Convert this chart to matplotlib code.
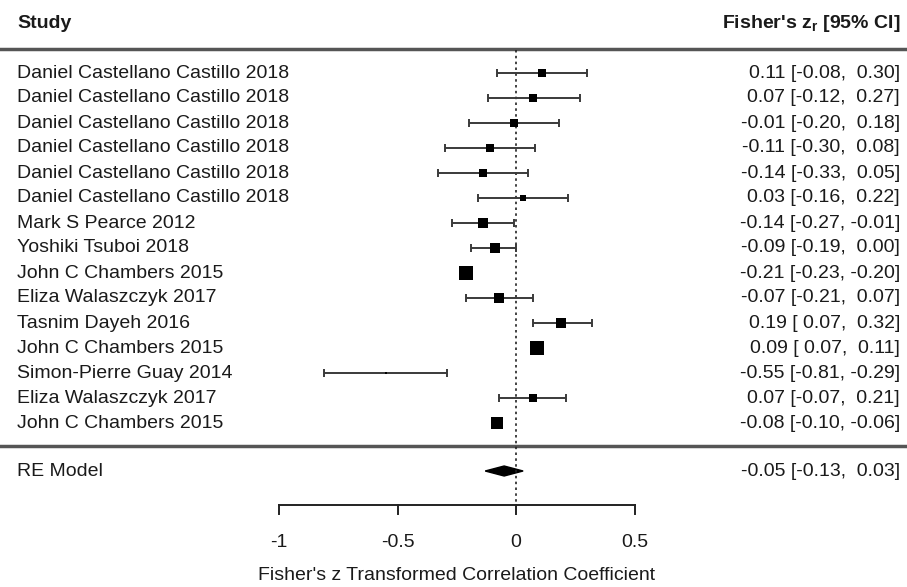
import numpy as np
import matplotlib.pyplot as plt

plt.rcParams['font.family'] = ['Liberation Sans', 'DejaVu Sans']
plt.rcParams['mathtext.fontset'] = 'custom'
plt.rcParams['mathtext.rm'] = 'Liberation Sans'
plt.rcParams['mathtext.bf'] = 'Liberation Sans:bold'

# study data
studies = ['Daniel Castellano Castillo 2018', 'Daniel Castellano Castillo 2018',
           'Daniel Castellano Castillo 2018', 'Daniel Castellano Castillo 2018',
           'Daniel Castellano Castillo 2018', 'Daniel Castellano Castillo 2018',
           'Mark S Pearce 2012', 'Yoshiki Tsuboi 2018', 'John C Chambers 2015',
           'Eliza Walaszczyk 2017', 'Tasnim Dayeh 2016', 'John C Chambers 2015',
           'Simon-Pierre Guay 2014', 'Eliza Walaszczyk 2017', 'John C Chambers 2015']
est = [0.11, 0.07, -0.01, -0.11, -0.14, 0.03, -0.14, -0.09, -0.21, -0.07, 0.19, 0.09, -0.55, 0.07, -0.08]
ci_lo = [-0.08, -0.12, -0.20, -0.30, -0.33, -0.16, -0.27, -0.19, -0.23, -0.21, 0.07, 0.07, -0.81, -0.07, -0.10]
ci_hi = [0.30, 0.27, 0.18, 0.08, 0.05, 0.22, -0.01, 0.00, -0.20, 0.07, 0.32, 0.11, -0.29, 0.21, -0.06]
# relative weights (square size)
weights = [7.5, 7.5, 7.5, 7.5, 7.5, 7, 10, 11, 14, 10, 10, 14, 2.5, 7.5, 12]

re_est, re_lo, re_hi = -0.05, -0.13, 0.03
xticks = [-1, -0.5, 0, 0.5]

W, H = 907, 587
fig = plt.figure(figsize=(W / 100, H / 100), dpi=100)
ax = fig.add_axes([0, 0, 1, 1])
ax.axis('off')

# pixel -> data helpers
X0, XS = 516, 237
Y0, YS = 73, 25
def px(p):
    return (p - X0) / XS
def py(p):
    return (p - Y0) / YS

ax.set_xlim(px(0), px(W))
ax.set_ylim(py(H), py(0))

txt = '#1a1a1a'
fs = 14
n = len(studies)
rows = np.arange(n)

# header
ax.text(px(17), py(23), 'Study', fontsize=fs, fontweight='bold', color=txt, va='center')
ax.text(px(900), py(23), r"Fisher's z$_\mathbf{r}$ [95% CI]", fontsize=fs, fontweight='bold',
        color=txt, va='center', ha='right')
ax.axhline(py(49), color='#555555', lw=2.5)
ax.axhline(py(446), color='#555555', lw=2.5)

# reference line at 0
ax.plot([0, 0], [py(50), py(505)], color='#222222', lw=1.2, ls=(0, (1.5, 2)))

# studies
for i in range(n):
    ax.errorbar(est[i], rows[i], xerr=[[est[i] - ci_lo[i]], [ci_hi[i] - est[i]]],
                fmt='none', ecolor='#3a3a3a', elinewidth=1.4, capsize=3, capthick=1.4)
    ax.plot(est[i], rows[i], marker='s', color='black', ms=weights[i] / 1.389, mew=0, ls='none')
    ax.text(px(17), rows[i], studies[i], fontsize=fs, color=txt, va='center')
    ax.text(px(900), rows[i], '%.2f [%5.2f, %5.2f]' % (est[i], ci_lo[i], ci_hi[i]),
            fontsize=fs, color=txt, va='center', ha='right')

# RE model diamond
yre = py(471)
dh = 5 / YS
ax.fill([re_lo, re_est, re_hi, re_est], [yre, yre - dh, yre, yre + dh], color='black')
ax.text(px(17), yre, 'RE Model', fontsize=fs, color=txt, va='center')
ax.text(px(900), yre, '%.2f [%5.2f, %5.2f]' % (re_est, re_lo, re_hi),
        fontsize=fs, color=txt, va='center', ha='right')

# x axis
ya = py(505)
ax.plot([xticks[0], xticks[-1]], [ya, ya], color='#222222', lw=1.4)
for t in xticks:
    ax.plot([t, t], [ya, py(514)], color='#222222', lw=1.4)
    ax.text(t, py(542), '%g' % t, fontsize=fs, color=txt, ha='center', va='center')
ax.text(px(457), py(575), "Fisher's z Transformed Correlation Coefficient",
        fontsize=fs, color=txt, ha='center', va='center')

fig.savefig('out.png', dpi=100)
